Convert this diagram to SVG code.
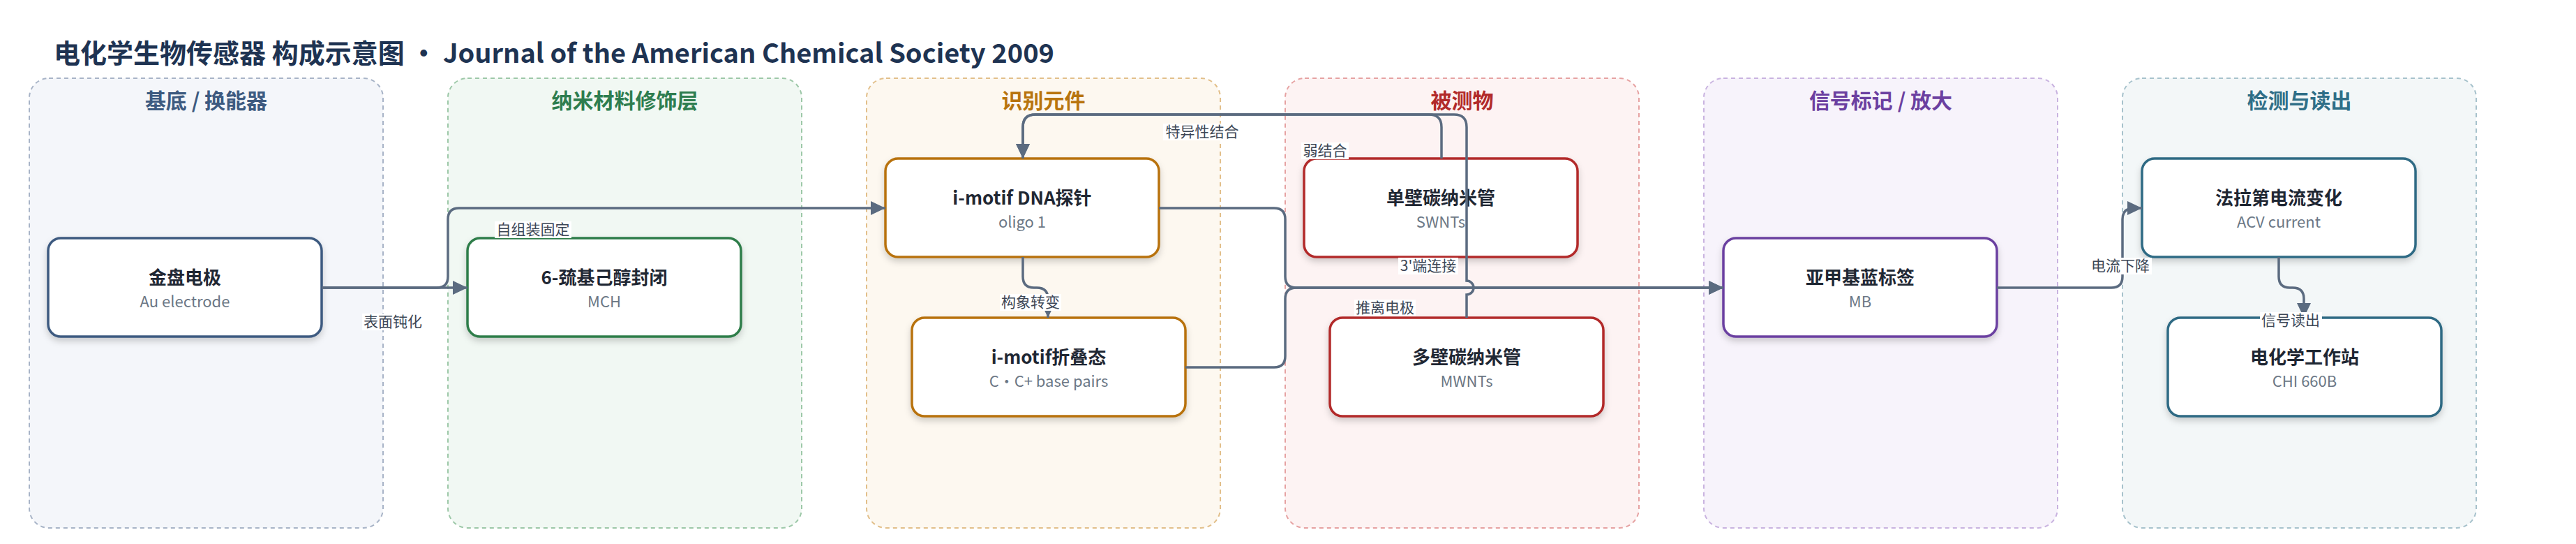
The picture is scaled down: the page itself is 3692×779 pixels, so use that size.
<svg xmlns="http://www.w3.org/2000/svg" width="3692" height="779" viewBox="0 0 3692 779">
<style>
text{font-family:"Noto Sans CJK SC","Noto Sans",sans-serif}
.ttl{font-size:38px;font-weight:700;fill:#1e3352}
.lane{stroke-width:2;stroke-dasharray:6 5}
.lt{font-size:30px;font-weight:700;text-anchor:middle}
.nd{fill:#fff;stroke-width:3.5;filter:url(#sh)}
.nt{font-size:26px;font-weight:700;fill:#1f2733;text-anchor:middle}
.ns{font-size:22px;fill:#6b7785;text-anchor:middle}
.e{fill:none;stroke:#5b6b80;stroke-width:3.5}
.lb{fill:#fff}
.lx{font-size:21px;fill:#3d4756;text-anchor:middle}
</style>
<defs>
<filter id="sh" x="-10%" y="-10%" width="120%" height="140%"><feDropShadow dx="0" dy="5" stdDeviation="5" flood-color="#000" flood-opacity="0.18"/></filter>
<marker id="ar" markerUnits="userSpaceOnUse" markerWidth="22" markerHeight="22" refX="21" refY="10" orient="auto"><path d="M0,0 L21,10 L0,20 z" fill="#5b6b80"/></marker>
</defs>
<rect width="3692" height="779" fill="#fff"/>
<text class="ttl" x="77" y="90">电化学生物传感器 构成示意图 · Journal of the American Chemical Society 2009</text>
<g id="lanes">
<g id="lane1"><rect class="lane" x="42" y="112" width="507" height="644" rx="28" fill="#f4f6fa" stroke="#a8b4c7"/><text class="lt" x="295.5" y="155" fill="#3d5a80">基底 / 换能器</text></g>
<g id="lane2"><rect class="lane" x="642" y="112" width="507" height="644" rx="28" fill="#f1f8f3" stroke="#9dc8a8"/><text class="lt" x="895.5" y="155" fill="#2e7d4f">纳米材料修饰层</text></g>
<g id="lane3"><rect class="lane" x="1242" y="112" width="507" height="644" rx="28" fill="#fdf8f0" stroke="#e2bf8a"/><text class="lt" x="1495.5" y="155" fill="#b8740e">识别元件</text></g>
<g id="lane4"><rect class="lane" x="1842" y="112" width="507" height="644" rx="28" fill="#fdf3f3" stroke="#e6a2a2"/><text class="lt" x="2095.5" y="155" fill="#b22a2a">被测物</text></g>
<g id="lane5"><rect class="lane" x="2442" y="112" width="507" height="644" rx="28" fill="#f7f3fb" stroke="#c9b3e0"/><text class="lt" x="2695.5" y="155" fill="#6b3fa0">信号标记 / 放大</text></g>
<g id="lane6"><rect class="lane" x="3042" y="112" width="507" height="644" rx="28" fill="#f3f7f8" stroke="#a7c2cc"/><text class="lt" x="3295.5" y="155" fill="#2f6e87">检测与读出</text></g>
</g>
<g id="n1"><rect class="nd" x="69" y="341" width="392" height="141" rx="18" stroke="#3d5a80"/><text class="nt" x="265" y="407">金盘电极</text><text class="ns" x="265" y="440">Au electrode</text></g>
<g id="n2"><rect class="nd" x="670" y="341" width="392" height="141" rx="18" stroke="#2e7d4a"/><text class="nt" x="866" y="407">6-巯基己醇封闭</text><text class="ns" x="866" y="440">MCH</text></g>
<g id="n3"><rect class="nd" x="1269" y="227" width="392" height="141" rx="18" stroke="#b8720e"/><text class="nt" x="1465" y="293">i-motif DNA探针</text><text class="ns" x="1465" y="326">oligo 1</text></g>
<g id="n4"><rect class="nd" x="1307" y="455" width="392" height="141" rx="18" stroke="#b8720e"/><text class="nt" x="1503" y="521">i-motif折叠态</text><text class="ns" x="1503" y="554">C·C+ base pairs</text></g>
<g id="n5"><rect class="nd" x="1869" y="227" width="392" height="141" rx="18" stroke="#b22a2a"/><text class="nt" x="2065" y="293">单壁碳纳米管</text><text class="ns" x="2065" y="326">SWNTs</text></g>
<g id="n6"><rect class="nd" x="1906" y="455" width="392" height="141" rx="18" stroke="#b22a2a"/><text class="nt" x="2102" y="521">多壁碳纳米管</text><text class="ns" x="2102" y="554">MWNTs</text></g>
<g id="n7"><rect class="nd" x="2470" y="341" width="392" height="141" rx="18" stroke="#6b3fa0"/><text class="nt" x="2666" y="407">亚甲基蓝标签</text><text class="ns" x="2666" y="440">MB</text></g>
<g id="n8"><rect class="nd" x="3070" y="227" width="392" height="141" rx="18" stroke="#2f6a84"/><text class="nt" x="3266" y="293">法拉第电流变化</text><text class="ns" x="3266" y="326">ACV current</text></g>
<g id="n9"><rect class="nd" x="3107" y="455" width="392" height="141" rx="18" stroke="#2f6a84"/><text class="nt" x="3303" y="521">电化学工作站</text><text class="ns" x="3303" y="554">CHI 660B</text></g>
<g id="edges">
<path class="e" marker-end="url(#ar)" d="M461,412 H670"/>
<path class="e" marker-end="url(#ar)" d="M461,412 H626 Q642,412 642,396 V314 Q642,298 658,298 H1269"/>
<path class="e" marker-end="url(#ar)" d="M1466,368 V396 Q1466,412 1482,412 H1486 Q1502,412 1502,428 V455"/>
<path class="e" marker-end="url(#ar)" d="M2066,227 V182 Q2066,164 2048,164 H1484 Q1466,164 1466,182 V227"/>
<path class="e" marker-end="url(#ar)" d="M2102,455 V422 A10,10 0 0 0 2102,402 V182 Q2102,164 2084,164 H1484 Q1466,164 1466,182 V227"/>
<path class="e" marker-end="url(#ar)" d="M1661,298 H1826 Q1842,298 1842,314 V396 Q1842,412 1858,412 H2470"/>
<path class="e" marker-end="url(#ar)" d="M1699,526 H1826 Q1842,526 1842,510 V428 Q1842,412 1858,412 H2470"/>
<path class="e" marker-end="url(#ar)" d="M2862,412 H3026 Q3042,412 3042,396 V314 Q3042,298 3058,298 H3070"/>
<path class="e" marker-end="url(#ar)" d="M3266,368 V396 Q3266,412 3282,412 H3286 Q3302,412 3302,428 V455"/>
</g>
<g id="labels">
<rect class="lb" x="519" y="449" width="88" height="24"/><text class="lx" x="563" y="468">表面钝化</text>
<rect class="lb" x="709" y="317" width="110" height="24"/><text class="lx" x="764" y="336">自组装固定</text>
<rect class="lb" x="1433" y="421" width="88" height="24"/><text class="lx" x="1477" y="440">构象转变</text>
<rect class="lb" x="1667" y="177" width="112" height="24"/><text class="lx" x="1723" y="196">特异性结合</text>
<rect class="lb" x="1865" y="204" width="68" height="24"/><text class="lx" x="1899" y="223">弱结合</text>
<rect class="lb" x="2004" y="369" width="86" height="24"/><text class="lx" x="2047" y="388">3'端连接</text>
<rect class="lb" x="1941" y="429" width="88" height="24"/><text class="lx" x="1985" y="448">推离电极</text>
<rect class="lb" x="2994" y="369" width="90" height="24"/><text class="lx" x="3039" y="388">电流下降</text>
<rect class="lb" x="3239" y="447" width="89" height="24"/><text class="lx" x="3283" y="466">信号读出</text>
</g>
</svg>
